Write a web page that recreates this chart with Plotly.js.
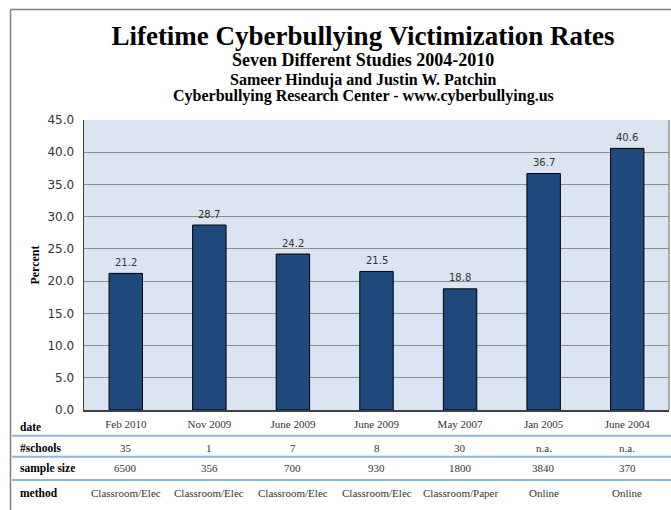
<!DOCTYPE html>
<html>
<head>
<meta charset="utf-8">
<script src="https://cdn.plot.ly/plotly-3.0.1.min.js"></script>
<style>html,body{margin:0;padding:0;background:#fff;}#chart{width:671px;height:510px;}</style>
</head>
<body>
<div id="chart"></div>
<script>
// ---- data ----
const dates = ['Feb 2010','Nov 2009','June 2009','June 2009','May 2007','Jan 2005','June 2004'];
const rates = [21.2, 28.7, 24.2, 21.5, 18.8, 36.7, 40.6];
const schools = ['35','1','7','8','30','n.a.','n.a.'];
const sampleSizes = ['6500','356','700','930','1800','3840','370'];
const methods = ['Classroom/Elec','Classroom/Elec','Classroom/Elec','Classroom/Elec','Classroom/Paper','Online','Online'];
const rowLabels = ['date','#schools','sample size','method'];
const yTicks = [0,5,10,15,20,25,30,35,40,45];

const titleText = 'Lifetime Cyberbullying Victimization Rates';
const subLines = ['Seven Different Studies 2004-2010','Sameer Hinduja and Justin W. Patchin','Cyberbullying Research Center - www.cyberbullying.us'];

// ---- layout helpers (pixel -> paper) ----
const W = 671, H = 510;
const M = {l:84, r:2, t:120, b:100};
const PW = W - M.l - M.r, PH = H - M.t - M.b;
const px = x => (x - M.l) / PW;
const py = y => (H - M.b - y) / PH;

const idx = dates.map((_, i) => i);
const serif = 'Liberation Serif, Times New Roman, serif';
const sans = 'DejaVu Sans, Verdana, sans-serif';

const trace = {
  type: 'bar',
  x: idx,
  y: rates,
  marker: {color: '#1f497d', line: {color: '#000000', width: 1}},
  hoverinfo: 'y'
};

const annotations = [];
// bar value labels
rates.forEach((v, i) => annotations.push({
  x: i, y: v, xref: 'x', yref: 'y', text: v.toFixed(1), showarrow: false,
  yanchor: 'middle', yshift: 11, font: {family: sans, size: 10, color: '#333'}
}));
// subtitles
const subY = [60, 80.5, 96];
const subSize = [18, 16, 16];
subLines.forEach((t, k) => annotations.push({
  x: px(363), y: py(subY[k]), xref: 'paper', yref: 'paper', text: '<b>' + t + '</b>',
  showarrow: false, xanchor: 'center', yanchor: 'middle',
  font: {family: serif, size: subSize[k], color: '#000'}
}));
// table row labels
const rowLabelY = [427, 448, 468, 493];
rowLabels.forEach((t, k) => annotations.push({
  x: px(18), y: py(rowLabelY[k]), xref: 'paper', yref: 'paper', text: '<b>' + t + '</b>',
  showarrow: false, xanchor: 'left', yanchor: 'middle',
  font: {family: serif, size: 11.5, color: '#000'}
}));
// table rows
const rows = [schools, sampleSizes, methods];
const rowY = [447.5, 468, 492.5];
rows.forEach((arr, k) => arr.forEach((t, i) => annotations.push({
  x: i, y: py(rowY[k]), xref: 'x', yref: 'paper', text: t, showarrow: false,
  xanchor: 'center', yanchor: 'middle',
  font: {family: serif, size: 11, color: '#333'}
})));

const shapes = [];
// table separators
[435.7, 456.7, 480].forEach(y => shapes.push({
  type: 'line', xref: 'paper', yref: 'paper', x0: px(12), x1: px(671), y0: py(y), y1: py(y),
  line: {color: '#8eb4e3', width: 2}
}));
// outer frame
shapes.push({type: 'line', xref: 'paper', yref: 'paper', x0: px(10.5), x1: px(10.5), y0: py(9.5), y1: py(515), line: {color: '#7f7f7f', width: 1.5}});
shapes.push({type: 'line', xref: 'paper', yref: 'paper', x0: px(10.5), x1: px(680), y0: py(9.5), y1: py(9.5), line: {color: '#7f7f7f', width: 1.5}});
// plot area right border
shapes.push({type: 'line', xref: 'paper', yref: 'paper', x0: 1, x1: 1, y0: 0, y1: 1, line: {color: '#7f7f7f', width: 1.2}});

const layout = {
  width: W, height: H,
  margin: M,
  paper_bgcolor: '#ffffff',
  plot_bgcolor: '#dbe5f1',
  showlegend: false,
  bargap: 0.6,
  title: {
    text: '<b>' + titleText + '</b>',
    x: 363 / W, xref: 'container', xanchor: 'center',
    y: 1 - 36 / H, yref: 'container', yanchor: 'middle',
    font: {family: serif, size: 27, color: '#000'}
  },
  xaxis: {
    range: [-0.5, dates.length - 0.5],
    tickmode: 'array', tickvals: idx, ticktext: dates,
    ticks: '', ticklabelstandoff: 3,
    tickfont: {family: serif, size: 11, color: '#333'},
    showgrid: false, zeroline: false,
    showline: true, linecolor: '#404040', linewidth: 1.5,
    fixedrange: true
  },
  yaxis: {
    range: [0, 45],
    tickmode: 'array', tickvals: yTicks, ticktext: yTicks.map(v => v.toFixed(1)),
    ticks: '', ticklabelstandoff: 6,
    tickfont: {family: sans, size: 12, color: '#333'},
    showgrid: true, gridcolor: '#8c8c8c', gridwidth: 1.2,
    zeroline: false,
    showline: true, linecolor: '#404040', linewidth: 1.5,
    title: {text: '<b>Percent</b>', standoff: 5, font: {family: serif, size: 12, color: '#000'}},
    fixedrange: true
  },
  annotations: annotations,
  shapes: shapes
};

Plotly.newPlot('chart', [trace], layout, {displayModeBar: false, staticPlot: true});
</script>
</body>
</html>
